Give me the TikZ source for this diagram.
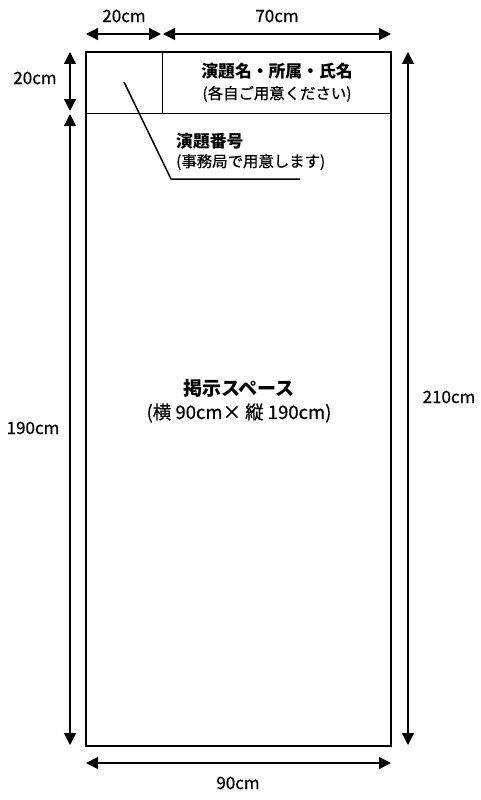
\documentclass[tikz,border=0pt]{standalone}
\usepackage{fontspec}
\setmainfont{Noto Sans CJK JP}[UprightFeatures={FakeBold=0.6}]
\usetikzlibrary{arrows.meta}
\tikzset{
	dimline/.style={line width=1.3pt, {Triangle[length=12pt,width=12pt]}-{Triangle[length=12pt,width=12pt]}},
	dimtext/.style={font=\fontsize{17}{20}\selectfont, inner sep=0pt},
	headtext/.style={font=\bfseries\fontsize{16.8}{20}\selectfont, inner sep=0pt},
	subtext/.style={font=\fontsize{15.4}{18}\selectfont, inner sep=0pt}
}

\begin{document}
\begin{tikzpicture}[x=1pt, y=-1pt]
		%%%%% START %%%%%
		\useasboundingbox (0, 0) rectangle (480, 800);
		
		% panel
		\draw[line width=2.5pt] (86, 52) rectangle (391, 746);
		\draw[line width=1pt] (86, 113) -- (391, 113);
		\draw[line width=1pt] (162, 52) -- (162, 113);
		
		% header texts
		\node[headtext] (title) at (277, 71) {演題名・所属・氏名};
		\node[subtext] (titlenote) at (277, 94) {(各自ご用意ください)};
		
		% number label and leader
		\coordinate (numcell) at (124, 82);
		\coordinate (bend) at (171, 179);
		\coordinate (leadend) at (300, 179);
		\draw[line width=1.5pt] (numcell) -- (bend) -- (leadend);
		\node[headtext, anchor=west] (number) at (176, 141) {演題番号};
		\node[subtext, anchor=west] (numbernote) at (176, 162) {(事務局で用意します)};
		
		% space label
		\node[headtext, font=\bfseries\fontsize{19}{22}\selectfont] (space) at (239, 388) {掲示スペース};
		\node[subtext, font=\fontsize{18.5}{22}\selectfont] (spacenote) at (239, 413) {(横 90cm× 縦 190cm)};
		
		% top dimensions
		\coordinate (ta) at (86, 34);
		\coordinate (tb) at (161, 34);
		\coordinate (tc) at (163, 34);
		\coordinate (td) at (391, 34);
		\draw[dimline] (ta) -- (tb);
		\draw[dimline] (tc) -- (td);
		\node[dimtext] (w20) at (124, 16) {20cm};
		\node[dimtext] (w70) at (277, 16) {70cm};
		
		% left dimensions
		\coordinate (la) at (70, 52);
		\coordinate (lb) at (70, 111);
		\coordinate (lc) at (70, 114);
		\coordinate (ld) at (70, 745);
		\draw[dimline] (la) -- (lb);
		\draw[dimline] (lc) -- (ld);
		\node[dimtext] (h20) at (35, 78) {20cm};
		\node[dimtext] (h190) at (33, 428) {190cm};
		
		% right dimension
		\coordinate (ra) at (408, 52);
		\coordinate (rb) at (408, 745);
		\draw[dimline] (ra) -- (rb);
		\node[dimtext] (h210) at (449, 397) {210cm};
		
		% bottom dimension
		\coordinate (ba) at (86, 763);
		\coordinate (bb) at (391, 763);
		\draw[dimline] (ba) -- (bb);
		\node[dimtext] (w90) at (238, 783) {90cm};
		
		%%%%% END %%%%%
	\end{tikzpicture}
\end{document}
